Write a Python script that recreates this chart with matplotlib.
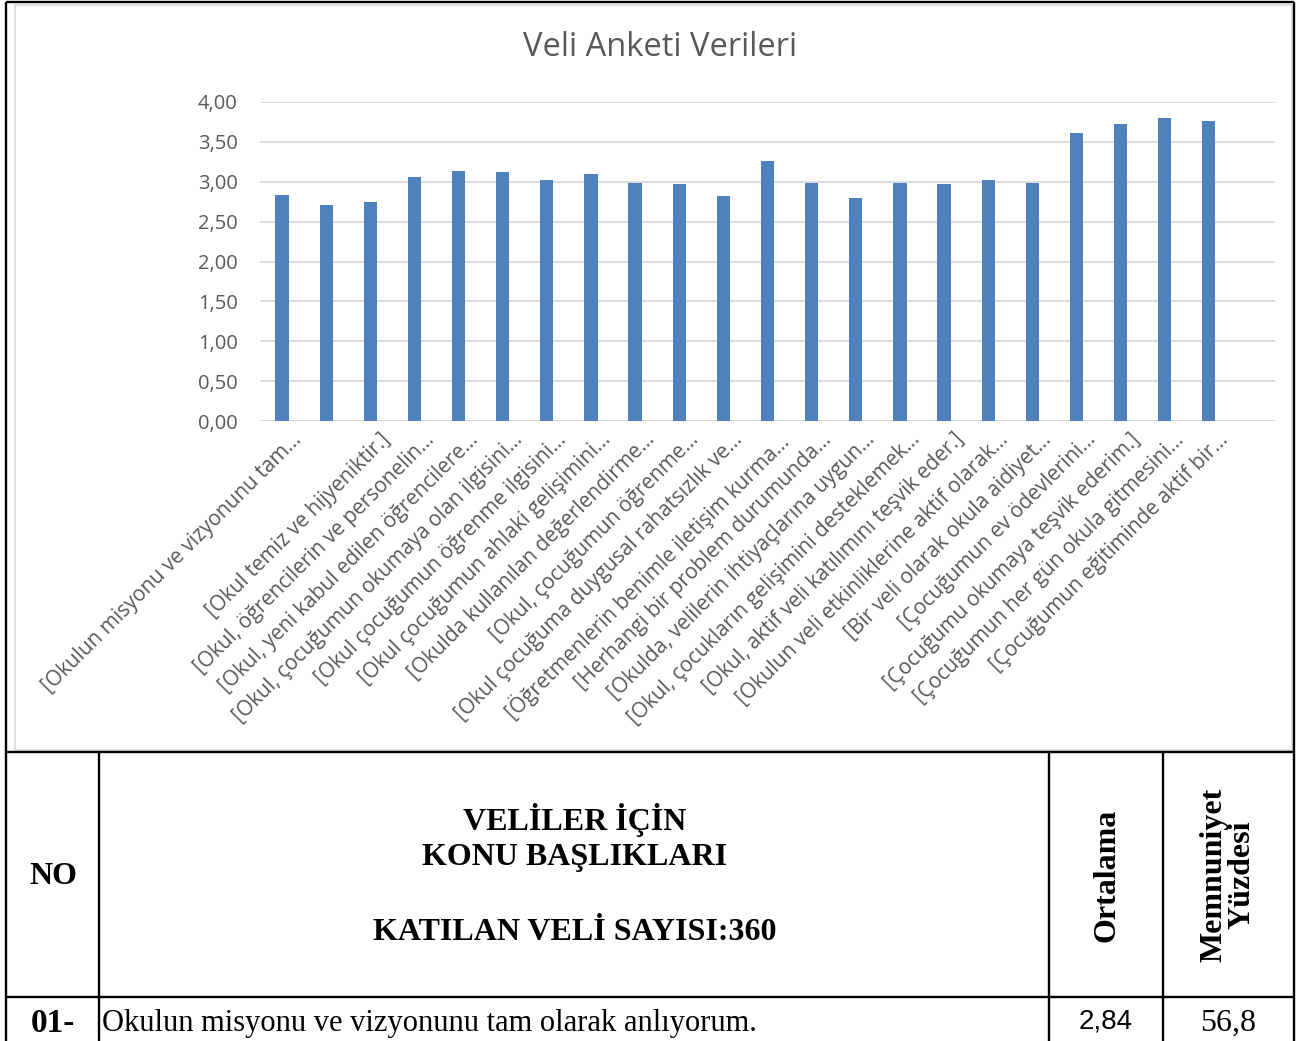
import numpy as np
import matplotlib.pyplot as plt
from matplotlib.ticker import FuncFormatter
from matplotlib.transforms import ScaledTranslation

# Veri
labels = [
    '[Okulun misyonu ve vizyonunu tam...',
    '',
    '[Okul temiz ve hijyeniktir.]',
    '[Okul, öğrencilerin ve personelin...',
    '[Okul, yeni kabul edilen öğrencilere...',
    '[Okul, çocuğumun okumaya olan ilgisini...',
    '[Okul çocuğumun öğrenme ilgisini...',
    '[Okul çocuğumun ahlaki gelişimini...',
    '[Okulda kullanılan değerlendirme...',
    '[Okul, çocuğumun öğrenme...',
    '[Okul çocuğuma duygusal rahatsızlık ve...',
    '[Öğretmenlerin benimle iletişim kurma...',
    '[Herhangi bir problem durumunda...',
    '[Okulda, velilerin ihtiyaçlarına uygun...',
    '[Okul, çocukların gelişimini desteklemek...',
    '[Okul, aktif veli katılımını teşvik eder.]',
    '[Okulun veli etkinliklerine aktif olarak...',
    '[Bir veli olarak okula aidiyet...',
    '[Çocuğumun ev ödevlerini...',
    '[Çocuğumu okumaya teşvik ederim.]',
    '[Çocuğumun her gün okula gitmesini...',
    '[Çocuğumun eğitiminde aktif bir...',
]
values = [2.84, 2.71, 2.74, 3.06, 3.13, 3.12, 3.02, 3.10, 2.98, 2.97, 2.82,
          3.26, 2.99, 2.80, 2.99, 2.97, 3.02, 2.98, 3.61, 3.73, 3.80, 3.76]
yticks = [0, 0.5, 1.0, 1.5, 2.0, 2.5, 3.0, 3.5, 4.0]

# Tablo satırı
header_lines = ['VELİLER İÇİN', 'KONU BAŞLIKLARI', 'KATILAN VELİ SAYISI:360']
row_no = '01-'
row_text = 'Okulun misyonu ve vizyonunu tam olarak anlıyorum.'
row_mean = '2,84'
row_pct = '56,8'

W, H = 1310, 1041
fig = plt.figure(figsize=(W / 100, H / 100), dpi=100)

# arka plan: tablo çizgileri ve yazılar (piksel koordinatları)
bg = fig.add_axes([0, 0, 1, 1])
bg.set_xlim(0, W)
bg.set_ylim(H, 0)
bg.axis('off')

# grafik çerçevesi
bg.plot([15, 1292, 1292, 15, 15], [5, 5, 750, 750, 5], color='#D9D9D9', lw=1.2)

k = dict(color='black', lw=1.7, solid_capstyle='butt')
bg.plot([6, 6], [2, H], **k)
bg.plot([1294, 1294], [2, H], **k)
bg.plot([6, 1294], [2, 2], **k)
bg.plot([6, 1294], [752, 752], **k)
bg.plot([6, 1294], [997, 997], **k)
for x in [99, 1049, 1163]:
    bg.plot([x, x], [752, H], **k)

serif = 'Liberation Serif'
bg.text(53, 877, 'NO', ha='center', va='center', family=serif, weight='bold', fontsize=23)
bg.text(575, 820, header_lines[0], ha='center', va='center', family=serif, weight='bold', fontsize=23)
bg.text(575, 857, header_lines[1], ha='center', va='center', family=serif, weight='bold', fontsize=23)
bg.text(575, 932, header_lines[2], ha='center', va='center', family=serif, weight='bold', fontsize=23)
bg.text(1107, 875, 'Ortalama', ha='center', va='center', rotation=90,
        family=serif, weight='bold', fontsize=23)
bg.text(1228, 875, 'Memnuniyet\nYüzdesi', ha='center', va='center', rotation=90,
        family=serif, weight='bold', fontsize=23, linespacing=0.95, multialignment='center')

bg.text(53, 1023, row_no, ha='center', va='center', family=serif, weight='bold', fontsize=24)
bg.text(102, 1023, row_text, ha='left', va='center', family=serif, fontsize=22)
bg.text(1106, 1022, row_mean, ha='center', va='center', family='Liberation Sans', fontsize=20)
bg.text(1228, 1023, row_pct, ha='center', va='center', family=serif, fontsize=23)

bg.text(660, 48, 'Veli Anketi Verileri', ha='center', va='center',
        family='Open Sans', fontsize=23.5, color='#595959')

# grafik
ax = fig.add_axes([260 / W, 1 - 421 / H, (1275 - 260) / W, (421 - 102) / H])
x = np.arange(len(values))
ax.bar(x, values, width=0.3, color='#4F81BD', zorder=3)
ax.set_xlim(-0.5, len(values) + 0.5)
ax.set_ylim(0, 4)
ax.set_yticks(yticks)
ax.yaxis.set_major_formatter(FuncFormatter(lambda v, p: f'{v:.2f}'.replace('.', ',')))
ax.grid(axis='y', color='#D9D9D9', lw=1.3, zorder=0)
for s in ax.spines.values():
    s.set_visible(False)
ax.axhline(0, color='#D9D9D9', lw=1.3, zorder=1)
ax.tick_params(axis='both', length=0, colors='#595959')
ax.tick_params(axis='y', pad=16, labelsize=14.5)
ax.set_xticks(x)
ax.set_xticklabels(labels, rotation=45, ha='right', va='top', rotation_mode='anchor',
                   fontsize=15, color='#595959')
ax.tick_params(axis='x', pad=6)
off = ScaledTranslation(0.09, 0, fig.dpi_scale_trans)
for t in ax.get_xticklabels():
    t.set_transform(t.get_transform() + off)
for t in ax.get_xticklabels() + ax.get_yticklabels():
    t.set_family('Open Sans')

fig.savefig('out.png', dpi=100)
